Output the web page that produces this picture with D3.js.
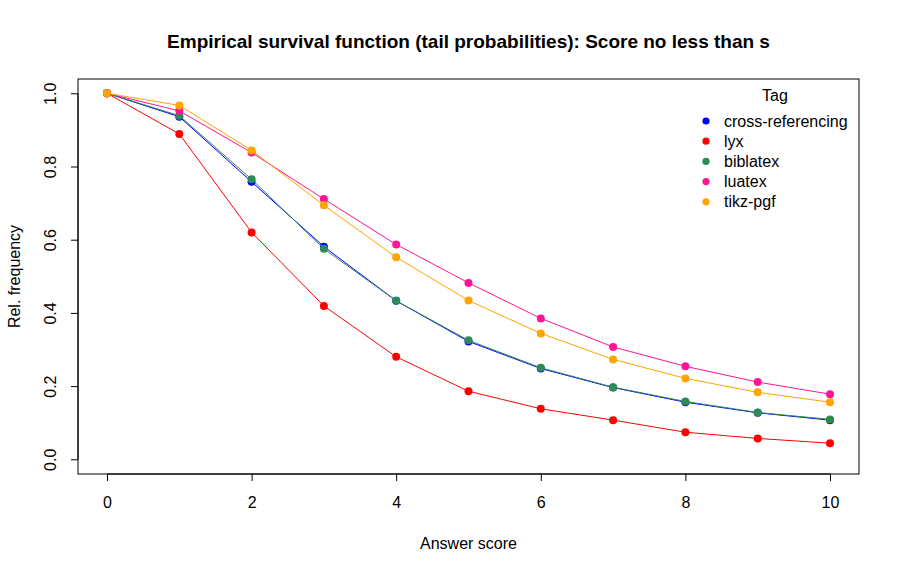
<!DOCTYPE html>
<html><head><meta charset="utf-8">
<script src="https://cdn.jsdelivr.net/npm/d3@7"></script>
<style>body{margin:0;background:#fff;} svg{display:block;font-family:"Liberation Sans",Arial,sans-serif;}</style>
</head><body>
<svg id="c" width="900" height="572"></svg>
<script>
const scores = [0,1,2,3,4,5,6,7,8,9,10];
const tags = ["cross-referencing","lyx","biblatex","luatex","tikz-pgf"];
const colors = ["#0000FF","#FF0000","#2E8B57","#FF1493","#FFA500"];
const crossRef = [1.0,0.936,0.758,0.581,0.433,0.322,0.248,0.196,0.156,0.127,0.107];
const lyx      = [1.0,0.889,0.620,0.419,0.280,0.186,0.138,0.107,0.074,0.057,0.044];
const biblatex = [1.0,0.939,0.765,0.575,0.433,0.325,0.250,0.197,0.158,0.128,0.109];
const luatex   = [1.0,0.952,0.838,0.711,0.587,0.482,0.385,0.307,0.254,0.211,0.178];
const tikzpgf  = [1.0,0.967,0.844,0.694,0.552,0.434,0.344,0.273,0.221,0.183,0.156];
const series = [crossRef,lyx,biblatex,luatex,tikzpgf];
const xTicks = [0,2,4,6,8,10];
const yTicks = [0,0.2,0.4,0.6,0.8,1.0];

const svg = d3.select("#c");
const x = d3.scaleLinear().domain([0,10]).range([107,830]);
const y = d3.scaleLinear().domain([0,1]).range([459.3,93.3]);
const L=78,R=859,T=79,B=474;
const FS="16px";

// title
svg.append("text").attr("x",(L+R)/2).attr("y",48).attr("text-anchor","middle")
  .attr("font-size","19px").attr("font-weight","bold").text("Empirical survival function (tail probabilities): Score no less than s");

// lines & points
const line = d3.line().x((d,i)=>x(scores[i])).y(d=>y(d));
series.forEach((s,k)=>{
  svg.append("path").attr("d",line(s)).attr("fill","none").attr("stroke",colors[k]).attr("stroke-width",1);
  svg.append("g").selectAll("circle").data(s).join("circle")
    .attr("cx",(d,i)=>x(scores[i])).attr("cy",d=>y(d)).attr("r",4).attr("fill",colors[k]);
});

// box
svg.append("rect").attr("x",L).attr("y",T).attr("width",R-L).attr("height",B-T)
  .attr("fill","none").attr("stroke","#000").attr("stroke-width",1);

// x axis
const xa = svg.append("g").attr("transform",`translate(0,${B})`)
  .call(d3.axisBottom(x).tickValues(xTicks).tickSize(7).tickPadding(16).tickFormat(d3.format("d")));
xa.select(".domain").attr("d",`M${x(0)},0H${x(10)}`);
xa.selectAll("text").attr("font-size",FS).attr("font-family","Liberation Sans, Arial, sans-serif").attr("fill","#000");

// y axis
const ya = svg.append("g").attr("transform",`translate(${L},0)`)
  .call(d3.axisLeft(y).tickValues(yTicks).tickSize(7).tickFormat(d3.format(".1f")));
ya.select(".domain").attr("d",`M0,${y(0)}V${y(1)}`);
ya.selectAll(".tick text").attr("font-size",FS).attr("font-family","Liberation Sans, Arial, sans-serif").attr("fill","#000")
  .attr("x",null).attr("dy",null).attr("text-anchor","middle")
  .attr("transform","translate(-22,0) rotate(-90)");

// axis labels
svg.append("text").attr("x",(L+R)/2).attr("y",549).attr("text-anchor","middle").attr("font-size",FS).text("Answer score");
svg.append("text").attr("transform",`translate(20,${(T+B)/2}) rotate(-90)`).attr("text-anchor","middle")
  .attr("font-size",FS).text("Rel. frequency");

// legend
const lg = svg.append("g");
lg.append("text").attr("x",775).attr("y",101).attr("text-anchor","middle").attr("font-size",FS).text("Tag");
tags.forEach((t,i)=>{
  const yy = 121 + i*20.2;
  lg.append("circle").attr("cx",706).attr("cy",yy).attr("r",3.6).attr("fill",colors[i]);
  lg.append("text").attr("x",724).attr("y",yy+5.5).attr("font-size",FS).text(t);
});
</script>
</body></html>
